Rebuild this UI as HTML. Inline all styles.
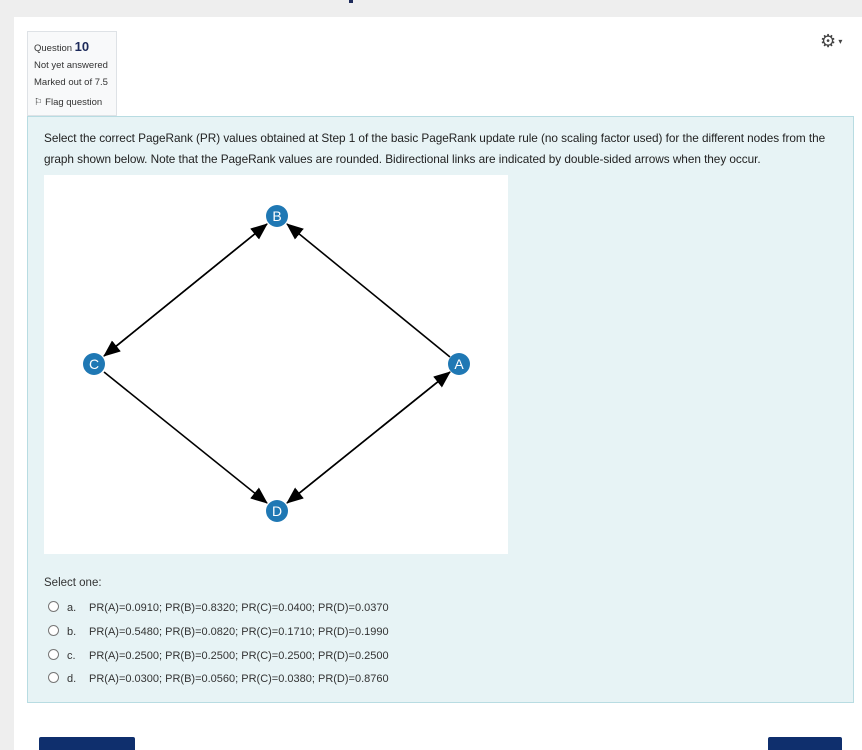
<!DOCTYPE html>
<html><head><meta charset="utf-8"><style>
body{margin:0;width:862px;height:750px;background:#eeeeee;font-family:"Liberation Sans",sans-serif;position:relative;overflow:hidden}
.panel{position:absolute;left:14px;top:17px;width:848px;height:733px;background:#fff}
.info{position:absolute;left:27px;top:31px;width:88px;height:83px;background:#f8f9fa;border:1px solid #dee2e6;font-size:9.5px;color:#333}
.info div{position:absolute;left:6px;white-space:nowrap}
.content{position:absolute;left:27px;top:116px;width:825px;height:585px;background:#e7f3f5;border:1px solid #b8dce2}
.q{position:absolute;left:16px;top:11px;white-space:nowrap;font-size:11.8px;letter-spacing:-0.05px;line-height:21px;color:#222}
.img{position:absolute;left:44px;top:175px;width:464px;height:379px;background:#fff}
.opt{position:absolute;left:48px;font-size:11px;color:#333;white-space:nowrap}
.opt .r{display:inline-block;width:9px;height:9px;border:1px solid #777;border-radius:50%;vertical-align:-1px;margin-right:8px;background:#fff}
.opt .l{display:inline-block;width:22px}
.btn{position:absolute;top:737px;height:13px;background:#0f2f6d;border-radius:2px 2px 0 0}
</style></head><body>
<div style="position:absolute;left:349px;top:0;width:4px;height:3px;background:#1d2a5a"></div>
<div class="panel"></div>
<div class="info">
<div style="top:7px;font-size:9.5px">Question <b style="font-size:13px;color:#1d2a5a">10</b></div>
<div style="top:28px">Not yet answered</div>
<div style="top:45px">Marked out of 7.5</div>
<div style="top:65px">⚐ Flag question</div>
</div>
<div style="position:absolute;left:820px;top:31px;font-size:18px;color:#444">⚙<span style="font-size:8px;vertical-align:3px"> ▾</span></div>
<div class="content"><div class="q">Select the correct PageRank (PR) values obtained at Step 1 of the basic PageRank update rule (no scaling factor used) for the different nodes from the<br>graph shown below. Note that the PageRank values are rounded. Bidirectional links are indicated by double-sided arrows when they occur.</div></div>
<div class="img"></div>
<svg style="position:absolute;left:0;top:0" width="862" height="750">
<defs><marker id="s" markerWidth="17" markerHeight="14" refX="16" refY="7" orient="auto" markerUnits="userSpaceOnUse"><path d="M0,0 L17,7 L0,14 Z" fill="#000"/></marker></defs>
<g stroke="#000" stroke-width="1.6">
<line x1="104" y1="356" x2="267" y2="224" marker-end="url(#s)"/>
<line x1="267" y1="224" x2="104" y2="356" marker-end="url(#s)"/>
<line x1="450" y1="357" x2="287" y2="224" marker-end="url(#s)"/>
<line x1="104" y1="372" x2="267" y2="503" marker-end="url(#s)"/>
<line x1="287" y1="503" x2="450" y2="372" marker-end="url(#s)"/>
<line x1="450" y1="372" x2="287" y2="503" marker-end="url(#s)"/>
</g>
<g fill="#1f78b4"><circle cx="277" cy="216" r="11"/><circle cx="94" cy="364" r="11"/><circle cx="459" cy="364" r="11"/><circle cx="277" cy="511" r="11"/></g>
<g fill="#fff" font-family="Liberation Sans" font-size="14" text-anchor="middle"><text x="277" y="221">B</text><text x="94" y="369">C</text><text x="459" y="369">A</text><text x="277" y="516">D</text></g>
</svg>
<div style="position:absolute;left:44px;top:577px;font-size:11.5px;color:#333">Select one:</div>
<div class="opt" style="top:601px"><span class="r"></span><span class="l">a.</span>PR(A)=0.0910; PR(B)=0.8320; PR(C)=0.0400; PR(D)=0.0370</div>
<div class="opt" style="top:625px"><span class="r"></span><span class="l">b.</span>PR(A)=0.5480; PR(B)=0.0820; PR(C)=0.1710; PR(D)=0.1990</div>
<div class="opt" style="top:649px"><span class="r"></span><span class="l">c.</span>PR(A)=0.2500; PR(B)=0.2500; PR(C)=0.2500; PR(D)=0.2500</div>
<div class="opt" style="top:672px"><span class="r"></span><span class="l">d.</span>PR(A)=0.0300; PR(B)=0.0560; PR(C)=0.0380; PR(D)=0.8760</div>
<div class="btn" style="left:39px;width:96px"></div>
<div class="btn" style="left:768px;width:74px"></div>
</body></html>
